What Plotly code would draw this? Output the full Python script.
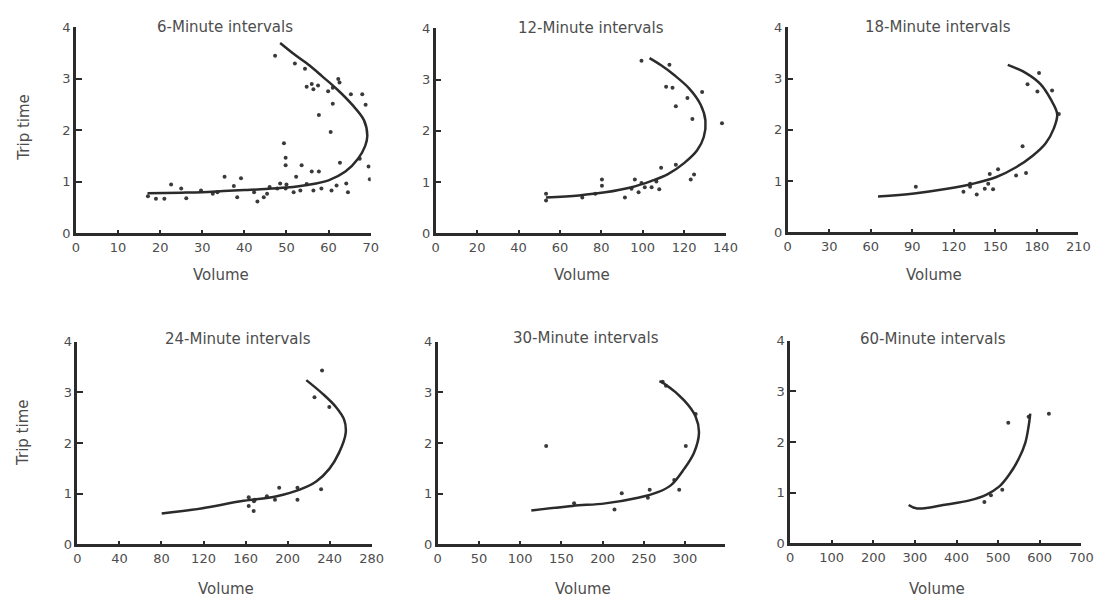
import plotly.graph_objects as go

# ---- data: fitted curves and observations (volume, trip time) ----
titles = ["6-Minute intervals", "12-Minute intervals", "18-Minute intervals",
          "24-Minute intervals", "30-Minute intervals", "60-Minute intervals"]

x_tickvals = [
    [0, 10, 20, 30, 40, 50, 60, 70],
    [0, 20, 40, 60, 80, 100, 120, 140],
    [0, 30, 60, 90, 120, 150, 180, 210],
    [0, 40, 80, 120, 160, 200, 240, 280],
    [0, 50, 100, 150, 200, 250, 300],
    [0, 100, 200, 300, 400, 500, 600, 700],
]
x_max = [70, 140, 210, 280, 348, 700]
y_tickvals = [0, 1, 2, 3, 4]

# 6-minute intervals
curve6_vol = [17, 25, 30, 35, 40, 45, 50, 55, 60, 64, 67, 68.7, 69.2, 68.4, 65.6, 62, 58.5, 55.5, 52, 48.5]
curve6_time = [0.78, 0.79, 0.80, 0.82, 0.84, 0.86, 0.89, 0.94, 1.03, 1.2, 1.45, 1.7, 1.9, 2.2, 2.5, 2.8, 3.05, 3.26, 3.47, 3.7]
obs6_vol = [47.3, 52, 54.4, 54.8, 56, 56.4, 57.5, 59.9, 61, 62.6, 62.3, 65.3, 68, 68.8, 61, 57.7, 60.5,
            49.4, 49.8, 49.8, 53.6, 62.7, 69.5, 69.8, 67.4, 56, 57.7, 52.3, 35.3, 39.2, 50, 17.1, 19, 21,
            22.6, 25, 26.2, 29.7, 32.5, 33.6, 37.5, 38.3, 42.3, 43.1, 44.6, 45.4, 46, 47.8, 48.5, 49.8,
            51.7, 53.3, 54.8, 56.4, 58.3, 60.7, 61.9, 64.2, 64.6]
obs6_time = [3.45, 3.3, 3.2, 2.85, 2.9, 2.8, 2.87, 2.76, 2.83, 2.93, 3.0, 2.7, 2.7, 2.5, 2.52, 2.3, 1.97,
             1.75, 1.47, 1.32, 1.32, 1.37, 1.3, 1.05, 1.45, 1.2, 1.2, 1.1, 1.1, 1.07, 0.95, 0.72, 0.67, 0.67,
             0.95, 0.87, 0.68, 0.83, 0.77, 0.8, 0.92, 0.7, 0.8, 0.62, 0.7, 0.77, 0.9, 0.87, 0.97, 0.87,
             0.8, 0.83, 0.96, 0.83, 0.87, 0.83, 0.93, 0.97, 0.8]

# 12-minute intervals
curve12_vol = [53.3, 69.2, 81.9, 94.6, 104, 112, 120, 126.3, 129.5, 130.3, 128, 122.4, 115.2, 108.9, 103.3]
curve12_time = [0.70, 0.74, 0.80, 0.90, 1.02, 1.15, 1.37, 1.62, 1.88, 2.2, 2.51, 2.83, 3.09, 3.28, 3.42]
obs12_vol = [99.4, 112.9, 111.3, 114.4, 121.6, 128.7, 116, 124, 138.3, 108.9, 116, 124.8, 123.2, 108,
             106.6, 96.2, 99.4, 101, 94.6, 91.4, 80.3, 80.3, 77.1, 70.8, 53.3, 53.3, 98, 104.3]
obs12_time = [3.37, 3.29, 2.86, 2.84, 2.64, 2.76, 2.48, 2.23, 2.15, 1.28, 1.34, 1.15, 1.05, 0.86,
              1.01, 1.05, 0.98, 0.9, 0.87, 0.7, 1.05, 0.93, 0.77, 0.7, 0.77, 0.64, 0.8, 0.9]

# 18-minute intervals
curve18_vol = [65.3, 91.4, 115.2, 134, 150.8, 165, 176.8, 186.4, 192.3, 194.7, 190, 182.8, 172.2, 159]
curve18_time = [0.70, 0.76, 0.85, 0.95, 1.08, 1.27, 1.49, 1.74, 2.03, 2.31, 2.6, 2.89, 3.11, 3.27]
obs18_vol = [92.6, 127, 131.8, 131.8, 136.6, 142.4, 148.4, 146, 152, 144.9, 165, 172.2, 169.7,
             173.3, 181.6, 180.4, 191, 195.9]
obs18_time = [0.89, 0.79, 0.95, 0.89, 0.74, 0.85, 0.84, 1.14, 1.23, 0.95, 1.11, 1.16, 1.68,
              2.89, 3.11, 2.75, 2.77, 2.31]

# 24-minute intervals
curve24_vol = [80.2, 117.7, 155.3, 189.7, 211.5, 227.2, 239.7, 249, 255.3, 253.8, 246, 233.4, 217.8]
curve24_time = [0.61, 0.71, 0.85, 0.95, 1.08, 1.24, 1.49, 1.81, 2.2, 2.46, 2.71, 2.97, 3.24]
obs24_vol = [232.8, 225.6, 239.7, 231.9, 209.4, 209.4, 192, 188, 180.3, 163, 163, 167.7, 168, 168.8]
obs24_time = [3.43, 2.9, 2.71, 1.09, 0.88, 1.12, 1.12, 0.88, 0.95, 0.93, 0.76, 0.66, 0.85, 0.88]

# 30-minute intervals
curve30_vol = [113.6, 163.5, 203.3, 243.2, 267.1, 283.1, 299, 311, 317, 313, 299, 275, 269]
curve30_time = [0.67, 0.76, 0.81, 0.92, 1.03, 1.17, 1.49, 1.81, 2.2, 2.52, 2.84, 3.17, 3.22]
obs30_vol = [131.6, 165.5, 214.5, 223.3, 257.2, 255, 293, 287, 301, 313, 273, 277]
obs30_time = [1.94, 0.81, 0.69, 1.01, 1.08, 0.92, 1.08, 1.27, 1.94, 2.57, 3.21, 3.13]

# 60-minute intervals
curve60_vol = [285, 305, 376, 431.4, 471, 502.4, 526, 549.6, 565.5, 573.3, 577.3]
curve60_time = [0.76, 0.69, 0.77, 0.85, 0.96, 1.12, 1.35, 1.67, 1.99, 2.31, 2.56]
obs60_vol = [467, 482.7, 510, 524.4, 573.3, 622]
obs60_time = [0.82, 0.95, 1.06, 2.38, 2.5, 2.56]

curves = [(curve6_vol, curve6_time), (curve12_vol, curve12_time), (curve18_vol, curve18_time),
          (curve24_vol, curve24_time), (curve30_vol, curve30_time), (curve60_vol, curve60_time)]
observations = [(obs6_vol, obs6_time), (obs12_vol, obs12_time), (obs18_vol, obs18_time),
                (obs24_vol, obs24_time), (obs30_vol, obs30_time), (obs60_vol, obs60_time)]

# ---- layout geometry (pixels: left, right, bottom, top) ----
W, H = 1116, 610
boxes = [
    (73, 372, 232, 21),
    (438, 732, 232, 22),
    (795, 1090, 231, 21),
    (74.5, 373, 551, 343),
    (440, 731, 551, 343),
    (797.5, 1093, 550, 342),
]
title_pos = [(224, 20), (596, 22), (948, 21), (237, 340), (590, 339), (943, 340)]
xtitle_pos = [(220, 275), (586, 275), (944, 275), (225, 597), (587, 597), (947, 597)]
ytitle_pos = [(20, 124), (20, 437)]

INK = "#2b2b2b"
TEXT = "#4d4d4d"
FONT = "DejaVu Sans"

fig = go.Figure()
layout = dict(
    width=W, height=H, margin=dict(l=0, r=0, t=0, b=0),
    paper_bgcolor="white", plot_bgcolor="white", showlegend=False,
    font=dict(family=FONT, color=TEXT, size=13),
)
annotations = []

for i in range(6):
    k = "" if i == 0 else str(i + 1)
    xa, ya = "x" + k, "y" + k
    l, r, b, t = boxes[i]
    layout["xaxis" + k] = dict(
        domain=[l / W, r / W], range=[0, x_max[i]], anchor=ya,
        showgrid=False, zeroline=False, showline=True, linecolor=INK, linewidth=2.5,
        ticks="inside", ticklen=4, tickwidth=2, tickcolor=INK,
        tickvals=x_tickvals[i], tickfont=dict(size=13, color=TEXT, family=FONT),
    )
    layout["yaxis" + k] = dict(
        domain=[1 - b / H, 1 - t / H], range=[0, 4], anchor=xa,
        showgrid=False, zeroline=False, showline=True, linecolor=INK, linewidth=2.5,
        ticks="inside", ticklen=6, tickwidth=2, tickcolor=INK,
        tickvals=y_tickvals, tickfont=dict(size=13, color=TEXT, family=FONT),
    )
    ov, ot = observations[i]
    fig.add_trace(go.Scatter(
        x=ov, y=ot, mode="markers", xaxis=xa, yaxis=ya,
        marker=dict(size=4, color="#3a3a3a", line=dict(width=0)),
        hoverinfo="skip",
    ))
    cv, ct = curves[i]
    fig.add_trace(go.Scatter(
        x=cv, y=ct, mode="lines", xaxis=xa, yaxis=ya,
        line=dict(color=INK, width=2.5, shape="spline", smoothing=1.0),
        hoverinfo="skip",
    ))
    tx, ty = title_pos[i]
    annotations.append(dict(text=titles[i], x=tx / W, y=1 - ty / H, xref="paper", yref="paper",
                            showarrow=False, xanchor="center", yanchor="middle",
                            font=dict(size=15, color=TEXT, family=FONT)))
    vx, vy = xtitle_pos[i]
    annotations.append(dict(text="Volume", x=vx / W, y=1 - vy / H, xref="paper", yref="paper",
                            showarrow=False, xanchor="center", yanchor="middle",
                            font=dict(size=15, color=TEXT, family=FONT)))

for yx, yy in ytitle_pos:
    annotations.append(dict(text="Trip time", x=yx / W, y=1 - yy / H, xref="paper", yref="paper",
                            showarrow=False, xanchor="center", yanchor="middle", textangle=-90,
                            font=dict(size=15, color=TEXT, family=FONT)))

layout["annotations"] = annotations
fig.update_layout(**layout)
fig.write_html("out.html")
